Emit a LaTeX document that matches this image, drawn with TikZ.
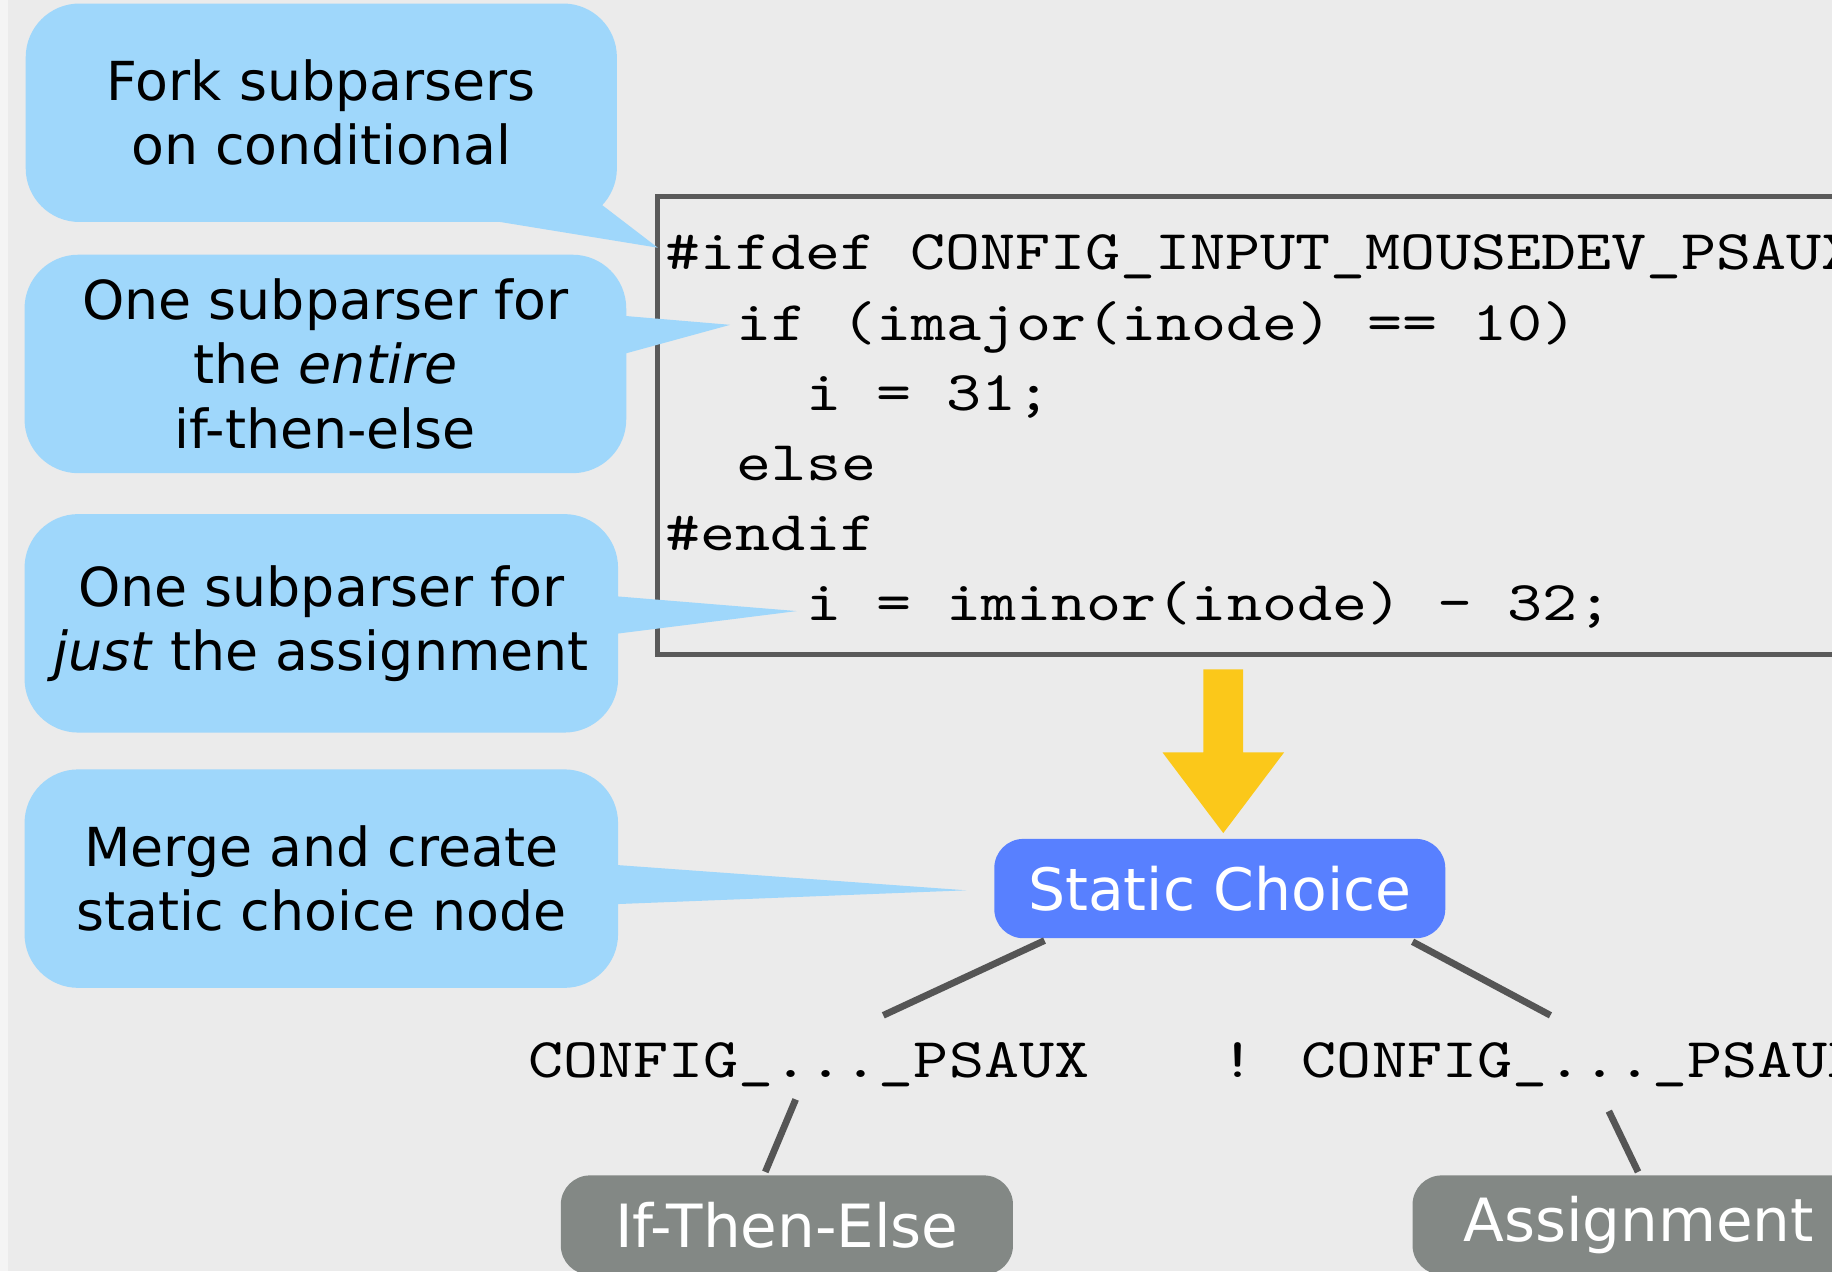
\documentclass[tikz,border=0pt]{standalone}
\usepackage{fontspec}
\setmainfont{DejaVu Sans}
\newfontfamily\codefont{lmmono10-regular}[Extension=.otf,FakeStretch=1.19]
\definecolor{bg}{HTML}{EBEBEB}
\definecolor{strip}{HTML}{F4F4F4}
\definecolor{callout}{HTML}{9FD7FB}
\definecolor{scblue}{HTML}{5880FF}
\definecolor{leafgray}{HTML}{838885}
\definecolor{arrowyellow}{HTML}{FBC81A}
\definecolor{linegray}{HTML}{555555}
\definecolor{boxgray}{HTML}{5A5A5A}
\begin{document}
\begin{tikzpicture}[x=0.5pt,y=-0.5pt,
  bubble/.style={fill=callout,rounded corners=23pt,inner sep=0pt,minimum height=93.5pt,
    align=center,font=\fontsize{23}{27.5}\selectfont},
  tail/.style={fill=callout},
  choice/.style={fill=scblue,rounded corners=12.5pt,minimum width=193pt,minimum height=42.5pt,
    inner sep=0pt,text=white,font=\fontsize{25}{30}\selectfont},
  leaf/.style={fill=leafgray,rounded corners=12.5pt,minimum width=193.5pt,minimum height=42.5pt,
    inner sep=0pt,text=white,font=\fontsize{25.5}{30}\selectfont},
  code/.style={anchor=base west,inner sep=0pt,font=\codefont\fontsize{24}{28}\selectfont},
  conn/.style={draw=linegray,line width=2.9pt}]
\useasboundingbox (0,0) rectangle (1568,1088);
\clip (0,0) rectangle (1568,1088);
\fill[bg] (0,0) rectangle (1568,1088);
\fill[strip] (0,0) rectangle (7,1088);

% callout bubbles
\node[bubble,minimum width=253pt] (c1) at (275,96.5) {Fork subparsers\\on conditional};
\node[bubble,minimum width=257.5pt] (c2) at (278.5,311.5) {One subparser for\\the \textit{entire}\\if-then-else};
\node[bubble,minimum width=254pt] (c3) at (275,533.5) {One subparser for\\\textit{just} the assignment};
\node[bubble,minimum width=254pt] (c4) at (275,752) {Merge and create\\static choice node};

% code box
\draw[boxgray,line width=2pt] (563,168) rectangle (1620,560);
\node[code] (l1) at (569,231) {\#ifdef CONFIG\_INPUT\_MOUSEDEV\_PSAUX};
\node[code] (l2) at (630,291) {if (imajor(inode) == 10)};
\node[code] (l3) at (690,351) {i = 31;};
\node[code] (l4) at (630,411) {else};
\node[code] (l5) at (569,471) {\#endif};
\node[code] (l6) at (690,531) {i = iminor(inode) – 32;};

% tails
\coordinate (t1) at (563,212);
\coordinate (t2) at (625,278);
\coordinate (t3) at (682,523);
\coordinate (t4) at (827,762);
\fill[tail] (422,189) -- (t1) -- (516,176) -- (495,160) -- cycle;
\fill[tail] (530,270) -- (t2) -- (530,304) -- cycle;
\fill[tail] (523,510) -- (t3) -- (523,543) -- cycle;
\fill[tail] (523,740) -- (t4) -- (523,774) -- cycle;

% yellow arrow
\fill[arrowyellow] (1030,573) -- (1064,573) -- (1064,644) -- (1099,644) -- (1047,713)
  -- (995,644) -- (1030,644) -- cycle;

% tree
\node[choice] (sc) at (1044,760.5) {Static Choice};
\node[code] (cl) at (452,922) {CONFIG\_...\_PSAUX};
\node[code] (cr) at (1044,922) {! CONFIG\_...\_PSAUX};
\node[leaf] (ite) at (673.5,1048.5) {If-Then-Else};
\node[leaf] (asg) at (1402.5,1048.5) {Assignment};

\coordinate (a1) at (894,805);
\coordinate (a2) at (756,869);
\coordinate (b1) at (1209,806);
\coordinate (b2) at (1327,869);
\coordinate (c1a) at (681,941);
\coordinate (c1b) at (655,1003);
\coordinate (d1a) at (1377,951);
\coordinate (d1b) at (1402,1003);
\draw[conn] (a1) -- (a2);
\draw[conn] (b1) -- (b2);
\draw[conn] (c1a) -- (c1b);
\draw[conn] (d1a) -- (d1b);
\end{tikzpicture}
\end{document}
